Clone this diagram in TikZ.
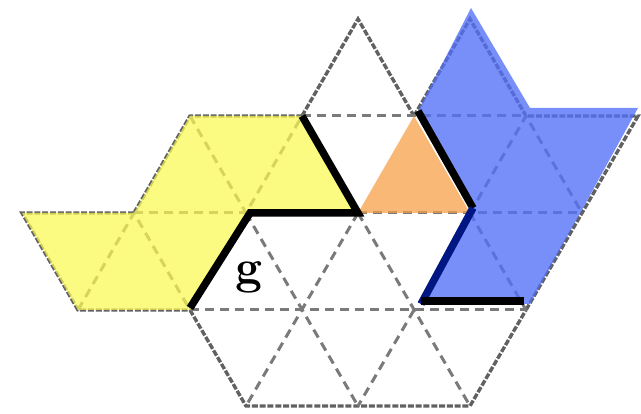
\documentclass[tikz,border=0pt]{standalone}
\begin{document}
\begin{tikzpicture}[x=1pt,y=-1pt,
  outerln/.style={draw=black!62, line width=3.4pt, dash pattern=on 6pt off 1.8pt},
  innerln/.style={draw=black!52, line width=3pt, dash pattern=on 9pt off 6pt},
  thickln/.style={draw=black, line width=7.5pt, line cap=butt, line join=miter},
  navyln/.style={draw=navy, line width=7.5pt},
  yfill/.style={fill=yelo, fill opacity=0.72},
  ofill/.style={fill=orng, fill opacity=0.75},
  bfill/.style={fill=blu, fill opacity=0.78}]
\definecolor{yelo}{RGB}{250,248,80}
\definecolor{orng}{RGB}{248,160,72}
\definecolor{blu}{RGB}{82,112,248}
\definecolor{navy}{RGB}{0,22,130}
\useasboundingbox (0,0) rectangle (641,414);
% lattice
\coordinate (A3) at (358,19);  \coordinate (A4) at (470,19);
\coordinate (B1) at (190,116); \coordinate (B2) at (302,116); \coordinate (B3) at (414,116);
\coordinate (B4) at (526,116); \coordinate (B5) at (638,116);
\coordinate (C0) at (22,213);  \coordinate (C1) at (134,213); \coordinate (C2) at (246,213);
\coordinate (C3) at (358,213); \coordinate (C4) at (470,213); \coordinate (C5) at (582,213);
\coordinate (D0) at (78,310);  \coordinate (D1) at (190,310); \coordinate (D2) at (302,310);
\coordinate (D3) at (414,310); \coordinate (D4) at (526,310);
\coordinate (E2) at (246,406); \coordinate (E3) at (358,406); \coordinate (E4) at (470,406);
% blue overlay corners
\coordinate (Q1) at (471,8);   \coordinate (Q2) at (530,108); \coordinate (Q3) at (638,108);
\coordinate (Q4) at (530,304); \coordinate (Q5) at (421,304); \coordinate (Q6) at (473,208);
\coordinate (Q7) at (418,111);
% outer lines
\draw[outerln] (B2) -- (A3) -- (B3);
\draw[outerln] (D1) -- (E2) -- (E4) -- (D4);
\draw[outerln] (C1) -- (C0) -- (D0) -- (D1);
\draw[outerln] (C1) -- (B1) -- (B2);
\draw[outerln] (B3) -- (A4) -- (B4) -- (B5) -- (D4);
% inner dashed lines
\draw[innerln] (B2) -- (B4);
\draw[innerln] (C1) -- (C2);
\draw[innerln] (C3) -- (C5);
\draw[innerln] (D1) -- (D4);
\draw[innerln] (B1) -- (C2) -- (B2);
\draw[innerln] (D0) -- (C1) -- (D1);
\draw[innerln] (C2) -- (E3);
\draw[innerln] (C3) -- (E2);
\draw[innerln] (C3) -- (E4);
\draw[innerln] (D3) -- (E3);
\draw[innerln] (C4) -- (B4) -- (C5);
\draw[innerln] (C4) -- (D4);
% fills
\fill[yfill] (C0) -- (C1) -- (B1) -- (B2) -- (C3) -- (C2) -- (D1) -- (D0) -- cycle;
\fill[ofill] (C3) -- (B3) -- (C4) -- cycle;
\fill[bfill] (Q1) -- (Q2) -- (Q3) -- (Q4) -- (Q5) -- (Q6) -- (Q7) -- cycle;
% thick borders
\draw[thickln] (B2) -- (C3) -- ([xshift=4pt]C2) -- ([yshift=2pt]D1);
\draw[thickln] (Q7) -- (Q6);
\draw[navyln] (Q6) -- (Q5);
\draw[thickln] ([yshift=3pt]Q5) -- ([xshift=-6pt,yshift=3pt]Q4);
% label
\node (g) at (249,277) {\fontsize{48}{48}\selectfont\bfseries g};
\end{tikzpicture}
\end{document}
